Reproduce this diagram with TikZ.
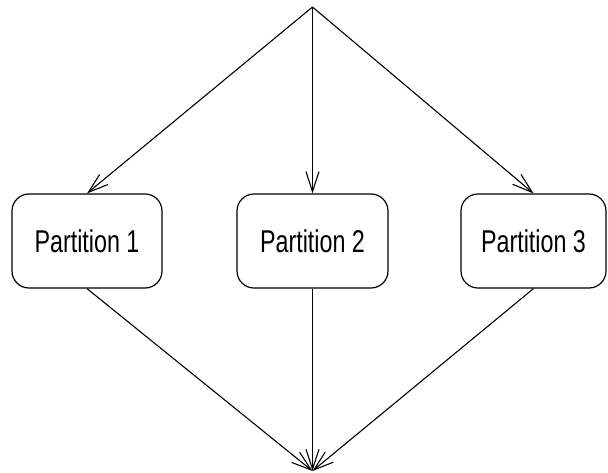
\documentclass[tikz,border=0pt]{standalone}
\usepackage{fontspec}
\newfontfamily\partfont[FakeStretch=0.74]{Liberation Sans}
\usepackage{tikz}
\usetikzlibrary{arrows.meta,positioning}

\begin{document}
\begin{tikzpicture}[
  x=1pt, y=-1pt,
  font=\partfont\fontsize{31.5}{36}\selectfont,
  part/.style={draw, line width=1.2pt, rounded corners=17pt,
               minimum height=94pt, inner sep=0pt, align=center},
  arr/.style={-{Straight Barb[length=20pt,width=13pt,line width=1.1pt]}, line width=1.1pt}
]
\useasboundingbox (0,0) rectangle (608,473);
% ---- fork and join points
\coordinate (top) at (312.5,7);
\coordinate (bot) at (312.5,471);

% ---- the partitions
\node[part, minimum width=150pt] (p1) at (87,241) {Partition 1};
\node[part, minimum width=151pt] (p2) at (312.5,241) {Partition 2};
\node[part, minimum width=145pt] (p3) at (533.5,241) {Partition 3};

% ---- split
\draw[arr] (top) -- (p1.north);
\draw[arr] (top) -- (p2.north);
\draw[arr] (top) -- (p3.north);

% ---- merge
\draw[arr] (p1.south) -- (bot);
\draw[arr] (p2.south) -- (bot);
\draw[arr] (p3.south) -- (bot);
\end{tikzpicture}
\end{document}
